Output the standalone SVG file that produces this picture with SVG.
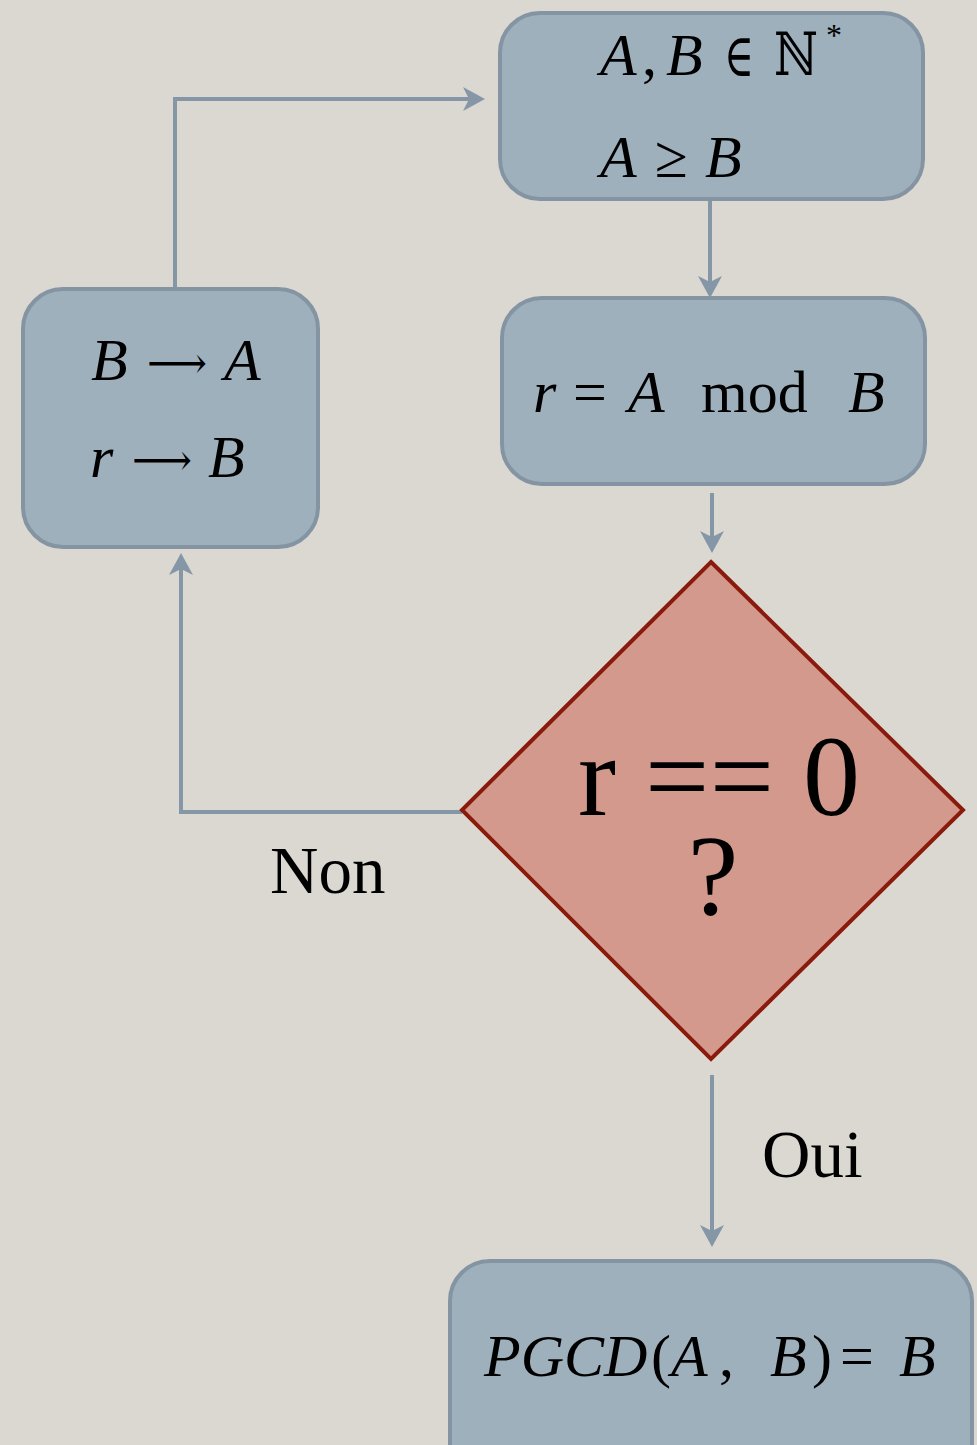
<svg xmlns="http://www.w3.org/2000/svg" width="977" height="1445" viewBox="0 0 977 1445">
<style>
.box{fill:#9fb0bd;stroke:#8494a3;stroke-width:4}
.dia{fill:#d4998d;stroke:#8a1a0c;stroke-width:4}
.con{fill:none;stroke:#8597a6;stroke-width:4;marker-end:url(#ah)}
.m{font-family:"Liberation Serif","DejaVu Serif",serif;font-size:60px;fill:#000}
.i{font-style:italic}
.u{font-style:normal}
.arr{font-family:"DejaVu Serif","Liberation Serif",serif;font-size:44px;fill:#000}
.lbl{font-family:"Liberation Serif","DejaVu Serif",serif;font-size:67px;fill:#000}
.big{font-family:"Liberation Serif","DejaVu Serif",serif;font-size:114px;fill:#000}
</style>
<defs>
<marker id="ah" markerUnits="userSpaceOnUse" viewBox="-14 -14 26 28" refX="0" refY="0" markerWidth="26" markerHeight="28" orient="auto">
<path d="M10,0 L-12,-12 L-6,0 L-12,12 Z" fill="#8597a6"/>
</marker>
</defs>
<rect width="977" height="1445" fill="#dad8d1"/>
<g id="connectors">
<path class="con" d="M710,200 V288"/>
<path class="con" d="M712,493 V543"/>
<path class="con" d="M462,812 H181 V563"/>
<path class="con" d="M175,288 V99 H475"/>
<path class="con" d="M712,1075 V1237"/>
</g>
<g id="start">
<rect class="box" x="500" y="13" width="423" height="186" rx="40"/>
<text class="m" y="75"><tspan class="i" x="600">A</tspan><tspan class="u" x="642">,</tspan><tspan class="i" x="666">B</tspan></text>
<text class="arr" x="724" y="76" style="font-size:60px" textLength="30" lengthAdjust="spacingAndGlyphs">∈</text>
<text class="m" x="774" y="75" textLength="44" lengthAdjust="spacingAndGlyphs">ℕ</text>
<text class="m" x="826" y="46" style="font-size:32px">*</text>
<text class="m" y="177"><tspan class="i" x="600">A</tspan><tspan class="u" x="655">≥</tspan><tspan class="i" x="705">B</tspan></text>
</g>
<g id="mod">
<rect class="box" x="502" y="298" width="423" height="186" rx="40"/>
<text class="m" y="412"><tspan class="i" x="533">r</tspan><tspan class="u" x="573">=</tspan><tspan class="i" x="628">A</tspan><tspan class="u" x="701">mod</tspan><tspan class="i" x="848">B</tspan></text>
</g>
<g id="update">
<rect class="box" x="23" y="289" width="295" height="258" rx="40"/>
<text class="m" y="380"><tspan class="i" x="91">B</tspan><tspan class="i" x="224">A</tspan></text>
<text class="arr" x="147" y="378" textLength="60" lengthAdjust="spacingAndGlyphs">⟶</text>
<text class="m" y="477"><tspan class="i" x="90">r</tspan><tspan class="i" x="208">B</tspan></text>
<text class="arr" x="132" y="475" textLength="60" lengthAdjust="spacingAndGlyphs">⟶</text>
</g>
<g id="test">
<polygon class="dia" points="711,562 963,810 711,1059 462,810"/>
<text class="big" x="578" y="815" textLength="282" lengthAdjust="spacing">r == 0</text>
<text class="big" x="713" y="914" text-anchor="middle">?</text>
</g>
<g id="result">
<rect class="box" x="450" y="1261" width="522" height="230" rx="40"/>
<text class="m" y="1376"><tspan class="i" x="484">PGCD</tspan><tspan class="u" x="651">(</tspan><tspan class="i" x="671">A</tspan><tspan class="u" x="719">,</tspan><tspan class="i" x="770">B</tspan><tspan class="u" x="812">)</tspan><tspan class="u" x="840">=</tspan><tspan class="i" x="899">B</tspan></text>
</g>
<g id="labels">
<text class="lbl" x="270" y="893">Non</text>
<text class="lbl" x="762" y="1177">Oui</text>
</g>
</svg>
